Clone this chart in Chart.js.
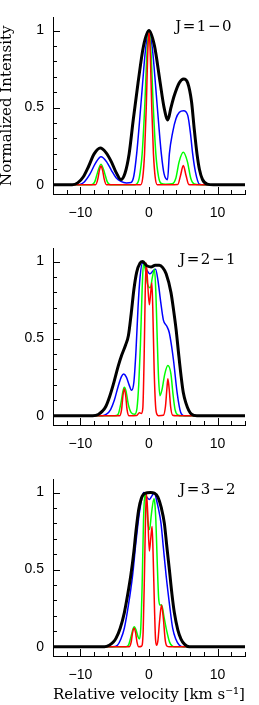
<!DOCTYPE html>
<html>
<head>
<meta charset="utf-8">
<script src="https://cdn.jsdelivr.net/npm/chart.js@4.4.1/dist/chart.umd.min.js"></script>
<style>
  html, body { margin: 0; padding: 0; background: #fff; }
  body { width: 259px; height: 705px; position: relative; overflow: hidden; }
  .panel { position: absolute; left: 0; width: 259px; }
</style>
</head>
<body>
<div class="panel" style="top:0px"><canvas id="c1" width="259" height="226"></canvas></div>
<div class="panel" style="top:231px"><canvas id="c2" width="259" height="226"></canvas></div>
<div class="panel" style="top:462px"><canvas id="c3" width="259" height="243"></canvas></div>
<script>
// axis ticks
const xLabelTicks = [-10, 0, 10];
const xTickMarks = [-14, -12, -10, -8, -6, -4, -2, 0, 2, 4, 6, 8, 10, 12, 14];
const yLabelTicks = [0, 0.5, 1];
const yTickMarks = [0, 0.1, 0.2, 0.3, 0.4, 0.5, 0.6, 0.7, 0.8, 0.9, 1];

// [velocity, normalized intensity]
// J=1-0
const j10Black = [[-14,0],[-11.2,0],[-10.4,0.012],[-9.6,0.05],[-8.8,0.12],[-8.0,0.2],[-7.1,0.238],[-6.3,0.21],[-5.5,0.15],[-4.8,0.08],[-4.1,0.034],[-3.5,0.075],[-2.9,0.2],[-2.3,0.42],[-1.6,0.66],[-0.8,0.9],[0,1.0],[0.8,0.9],[1.6,0.67],[2.2,0.5],[2.75,0.42],[3.2,0.5],[3.7,0.58],[4.4,0.66],[5.05,0.686],[5.65,0.66],[6.2,0.54],[6.6,0.36],[7.0,0.2],[7.35,0.1],[7.8,0.034],[8.5,0.004],[9.4,0],[14,0]];
const j10Blue = [[-14,0],[-10.2,0],[-9.4,0.02],[-8.6,0.07],[-7.8,0.14],[-7.0,0.182],[-6.2,0.15],[-5.5,0.095],[-4.8,0.045],[-4.1,0.022],[-3.3,0.012],[-2.6,0.015],[-2.2,0.06],[-1.8,0.2],[-1.4,0.4],[-1.0,0.62],[-0.5,0.88],[0,1.0],[0.5,0.88],[1.0,0.62],[1.4,0.4],[1.8,0.2],[2.2,0.07],[2.7,0.033],[2.97,0.2],[3.45,0.34],[3.94,0.43],[4.43,0.47],[5.05,0.48],[5.65,0.45],[6.03,0.34],[6.37,0.2],[6.77,0.084],[7.35,0.004],[8,0],[14,0]];
const j10Green = [[-14,0],[-8.4,0],[-7.9,0.02],[-7.5,0.08],[-7.0,0.133],[-6.5,0.08],[-6.1,0.02],[-5.6,0],[-2.2,0],[-1.8,0.005],[-1.4,0.05],[-1.0,0.2],[-0.63,0.5],[-0.3,0.85],[0,1.0],[0.3,0.85],[0.63,0.5],[1.0,0.2],[1.4,0.05],[1.8,0.008],[2.4,0.003],[3.4,0.006],[3.9,0.04],[4.4,0.15],[5.0,0.21],[5.6,0.15],[6.1,0.04],[6.6,0.005],[7.5,0],[14,0]];
const j10Red = [[-14,0],[-7.8,0],[-7.45,0.04],[-7.25,0.09],[-7.0,0.122],[-6.75,0.09],[-6.55,0.04],[-6.2,0],[-1.2,0],[-0.9,0.05],[-0.65,0.2],[-0.4,0.5],[-0.2,0.83],[0,1.0],[0.2,0.83],[0.4,0.5],[0.65,0.2],[0.9,0.05],[1.2,0],[4.2,0.002],[4.6,0.06],[5.0,0.125],[5.4,0.06],[5.8,0.002],[6.2,0],[14,0]];

// J=2-1
const j21Black = [[-14,0],[-8.2,0],[-7.4,0.008],[-6.8,0.03],[-6.3,0.06],[-5.7,0.13],[-5.1,0.22],[-4.5,0.32],[-4.0,0.39],[-3.4,0.46],[-3.0,0.52],[-2.6,0.66],[-2.2,0.82],[-1.8,0.93],[-1.3,0.99],[-0.9,1.0],[-0.4,0.975],[0.3,0.965],[0.9,0.975],[1.5,0.975],[2.0,0.96],[2.5,0.92],[3.2,0.8],[3.6,0.68],[3.95,0.56],[4.3,0.41],[4.67,0.26],[5.0,0.15],[5.4,0.08],[5.8,0.035],[6.2,0.01],[7,0],[14,0]];
const j21Blue = [[-14,0],[-6.8,0],[-6.2,0.01],[-5.6,0.04],[-5.06,0.1],[-4.5,0.19],[-4.0,0.255],[-3.7,0.27],[-3.3,0.25],[-2.9,0.2],[-2.55,0.165],[-2.2,0.22],[-1.9,0.42],[-1.6,0.7],[-1.3,0.9],[-0.95,0.99],[-0.4,0.95],[0.15,0.92],[0.6,0.94],[0.95,0.95],[1.3,0.88],[1.7,0.74],[2.1,0.62],[2.6,0.58],[2.95,0.54],[3.3,0.45],[3.6,0.35],[4.1,0.15],[4.6,0.025],[5.2,0],[14,0]];
const j21Green = [[-14,0],[-5.0,0],[-4.5,0.01],[-4.1,0.08],[-3.8,0.16],[-3.6,0.185],[-3.35,0.16],[-3.0,0.07],[-2.6,0.02],[-2.1,0.01],[-1.75,0.05],[-1.5,0.2],[-1.25,0.46],[-1.0,0.82],[-0.8,0.99],[-0.55,0.95],[-0.2,0.85],[0.2,0.83],[0.5,0.9],[0.8,0.95],[1.0,0.8],[1.2,0.5],[1.4,0.24],[1.6,0.13],[1.9,0.17],[2.3,0.27],[2.75,0.325],[3.2,0.27],[3.5,0.14],[3.8,0.04],[4.2,0.005],[4.8,0],[14,0]];
const j21Red = [[-14,0],[-4.3,0],[-4.0,0.04],[-3.8,0.13],[-3.6,0.175],[-3.4,0.13],[-3.2,0.04],[-2.9,0],[-1.8,0.002],[-1.4,0.02],[-1.1,0.015],[-0.9,0.05],[-0.7,0.4],[-0.55,0.8],[-0.42,0.99],[-0.25,0.9],[0.05,0.72],[0.25,0.8],[0.42,0.86],[0.55,0.7],[0.75,0.3],[0.95,0.07],[1.15,0.01],[1.4,0],[2.1,0.003],[2.4,0.06],[2.6,0.17],[2.75,0.24],[2.95,0.17],[3.15,0.06],[3.45,0.003],[4,0],[14,0]];

// J=3-2
const j32Black = [[-14,0],[-6.5,0],[-5.8,0.01],[-5.2,0.03],[-4.8,0.056],[-4.2,0.12],[-3.6,0.22],[-3.1,0.34],[-2.63,0.47],[-2.2,0.62],[-1.9,0.75],[-1.5,0.89],[-1.1,0.965],[-0.6,0.995],[0.2,1.0],[0.8,0.995],[1.3,0.97],[1.8,0.9],[2.24,0.8],[2.6,0.65],[2.97,0.5],[3.35,0.34],[3.7,0.22],[4.2,0.11],[4.67,0.05],[5.2,0.015],[5.9,0],[14,0]];
const j32Blue = [[-14,0],[-5.3,0],[-4.6,0.01],[-4.1,0.05],[-3.6,0.12],[-3.0,0.27],[-2.4,0.46],[-1.9,0.68],[-1.4,0.87],[-1.0,0.97],[-0.78,1.0],[-0.4,0.975],[0.05,0.955],[0.45,0.98],[0.8,1.0],[1.1,0.95],[1.4,0.89],[1.75,0.8],[2.1,0.64],[2.5,0.46],[3.0,0.27],[3.45,0.12],[3.9,0.05],[4.4,0.012],[5,0],[14,0]];
const j32Green = [[-14,0],[-3.4,0],[-3.0,0.01],[-2.6,0.07],[-2.3,0.12],[-2.14,0.13],[-1.9,0.11],[-1.6,0.065],[-1.4,0.05],[-1.2,0.12],[-1.0,0.4],[-0.8,0.82],[-0.6,0.99],[-0.4,0.95],[-0.15,0.8],[0.08,0.76],[0.35,0.86],[0.72,0.96],[0.85,0.93],[1.0,0.82],[1.2,0.55],[1.4,0.32],[1.6,0.27],[1.85,0.27],[2.2,0.19],[2.6,0.1],[3.0,0.03],[3.4,0.005],[3.8,0],[14,0]];
const j32Red = [[-14,0],[-2.9,0],[-2.6,0.03],[-2.4,0.09],[-2.17,0.12],[-1.95,0.09],[-1.75,0.03],[-1.5,0],[-1.1,0.003],[-0.85,0.1],[-0.65,0.5],[-0.5,0.85],[-0.37,0.99],[-0.2,0.88],[0.05,0.62],[0.25,0.7],[0.45,0.78],[0.6,0.6],[0.8,0.25],[0.95,0.05],[1.1,0.01],[1.3,0.04],[1.55,0.17],[1.82,0.27],[2.1,0.18],[2.35,0.05],[2.6,0.005],[3,0],[14,0]];

const transitions = ['J=1\u22120', 'J=2\u22121', 'J=3\u22122'];

const serif = '"DejaVu Serif", serif';
const sans = '"Liberation Sans", Arial, sans-serif';

// inward tick marks + transition label
const frameMarks = {
  id: 'frameMarks',
  afterDraw(chart, args, opts) {
    const {ctx, chartArea: a, scales: {x, y}} = chart;
    ctx.save();
    ctx.strokeStyle = '#000';
    ctx.lineWidth = 1;
    ctx.beginPath();
    yTickMarks.forEach(v => {
      const py = Math.round(y.getPixelForValue(v)) + 0.5;
      const len = yLabelTicks.includes(v) ? 7 : 4;
      ctx.moveTo(a.left, py); ctx.lineTo(a.left + len, py);
    });
    xTickMarks.forEach(v => {
      const px = Math.round(x.getPixelForValue(v)) + 0.5;
      const len = xLabelTicks.includes(v) ? 7 : 4;
      ctx.moveTo(px, a.bottom); ctx.lineTo(px, a.bottom - len);
    });
    ctx.stroke();
    ctx.fillStyle = '#000';
    ctx.font = '15px ' + serif;
    ctx.letterSpacing = '1.5px';
    ctx.textAlign = 'right';
    ctx.textBaseline = 'middle';
    ctx.fillText(opts.text, opts.right, a.top + opts.dy);
    ctx.restore();
  }
};

const pts = arr => arr.map(p => ({x: p[0], y: p[1]}));
const line = (data, color, width) => ({
  data: pts(data), borderColor: color, borderWidth: width,
  pointRadius: 0, fill: false, cubicInterpolationMode: 'monotone'
});

function makePanel(id, black, blue, green, red, opt) {
  return new Chart(document.getElementById(id), {
    type: 'line',
    data: {
      datasets: [
        line(black, '#000000', 3),
        line(red, '#ff0000', 1.5),
        line(green, '#00ff00', 1.5),
        line(blue, '#0000ff', 1.5)
      ]
    },
    options: {
      responsive: false,
      animation: false,
      layout: { padding: { top: 3, right: 14, left: 0, bottom: 0 } },
      plugins: {
        legend: { display: false },
        tooltip: { enabled: false },
        frameMarks: { text: opt.label, right: opt.labelRight, dy: opt.labelDy }
      },
      scales: {
        x: {
          type: 'linear', min: -14, max: 14,
          afterBuildTicks: s => { s.ticks = xLabelTicks.map(v => ({value: v})); },
          afterFit: s => { s.height = opt.xHeight; },
          grid: { display: false, drawTicks: false },
          border: { display: true, color: '#000', width: 1 },
          ticks: {
            color: '#000', padding: 11, maxRotation: 0, autoSkip: false,
            font: { family: sans, size: 14 },
            callback: v => v < 0 ? '\u2212' + Math.abs(v) : String(v)
          },
          title: {
            display: !!opt.xTitle, text: opt.xTitle || '', color: '#000',
            font: { family: serif, size: 15 }, padding: { top: 0, bottom: 1 }
          }
        },
        y: {
          min: -0.06, max: 1.085,
          afterBuildTicks: s => { s.ticks = yLabelTicks.map(v => ({value: v})); },
          afterFit: s => { s.width = 53; },
          grid: { display: false, drawTicks: false },
          border: { display: true, color: '#000', width: 1 },
          ticks: {
            color: '#000', padding: 9,
            font: { family: sans, size: 14 },
            callback: v => String(v)
          },
          title: {
            display: !!opt.yTitle, text: opt.yTitle || '', color: '#000',
            font: { family: serif, size: 15 }, padding: { top: -2, bottom: 0 }
          }
        }
      }
    },
    plugins: [frameMarks]
  });
}

makePanel('c1', j10Black, j10Blue, j10Green, j10Red,
  { label: transitions[0], labelRight: 233, labelDy: 10, xHeight: 32, yTitle: 'Normalized Intensity' });
makePanel('c2', j21Black, j21Blue, j21Green, j21Red,
  { label: transitions[1], labelRight: 237, labelDy: 12, xHeight: 32 });
makePanel('c3', j32Black, j32Blue, j32Green, j32Red,
  { label: transitions[2], labelRight: 237, labelDy: 11, xHeight: 49, xTitle: 'Relative velocity [km s\u207B\u00B9]' });
</script>
</body>
</html>
